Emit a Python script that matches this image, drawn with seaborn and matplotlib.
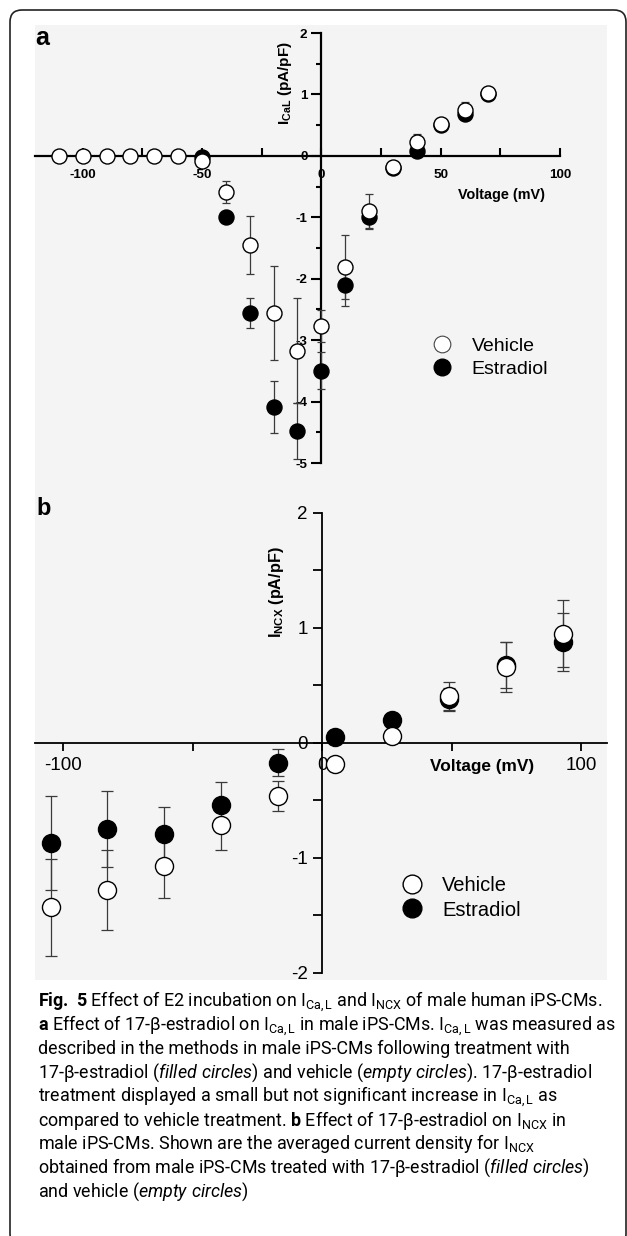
"""Fig. 5 recreation: I-V curves of I_CaL (a) and I_NCX (b), vehicle vs estradiol."""
import matplotlib
matplotlib.use("Agg")
import matplotlib.pyplot as plt
import pandas as pd
import seaborn as sns
from matplotlib.lines import Line2D
from matplotlib.patches import FancyBboxPatch, Rectangle
from matplotlib.ticker import FixedLocator, MultipleLocator

# ---- data -----------------------------------------------------------------
# panel a: L-type Ca current density (pA/pF)
volt_a_vehicle = [-110, -100, -90, -80, -70, -60, -50, -40, -30, -20, -10, 0, 10, 20, 30, 40, 50, 60, 70]
ical_vehicle = [0, 0, 0, 0, 0, 0, -0.08, -0.59, -1.45, -2.56, -3.17, -2.77, -1.81, -0.90, -0.18, 0.23, 0.52, 0.75, 1.03]
ical_vehicle_se = [0, 0, 0, 0, 0, 0, 0.06, 0.18, 0.47, 0.77, 0.86, 0.26, 0.52, 0.28, 0.10, 0.13, 0.10, 0.12, 0.05]

volt_a_estradiol = [-50, -40, -30, -20, -10, 0, 10, 20, 30, 40, 50, 60, 70]
ical_estradiol = [-0.02, -1.00, -2.56, -4.09, -4.48, -3.50, -2.10, -1.00, -0.20, 0.08, 0.50, 0.68, 1.00]
ical_estradiol_se = [0.03, 0.07, 0.24, 0.42, 0.45, 0.30, 0.34, 0.19, 0.08, 0.10, 0.08, 0.08, 0.05]

# panel b: Na/Ca exchanger current density (pA/pF)
volt_b = [-105, -83, -61, -39, -17, 5, 27, 49, 71, 93]
incx_vehicle = [-1.43, -1.28, -1.07, -0.71, -0.46, -0.18, 0.06, 0.41, 0.66, 0.95]
incx_vehicle_se = [0.42, 0.35, 0.28, 0.22, 0.13, 0.03, 0.03, 0.12, 0.22, 0.29]
incx_estradiol = [-0.87, -0.75, -0.79, -0.54, -0.17, 0.05, 0.20, 0.38, 0.68, 0.88]
incx_estradiol_se = [0.41, 0.33, 0.23, 0.20, 0.12, 0.03, 0.03, 0.10, 0.20, 0.25]

group_labels = ["Vehicle", "Estradiol"]

caption_lines = [
    r"$\mathbf{Fig.\ 5}$ Effect of E2 incubation on $\mathregular{I_{Ca,L}}$ and $\mathregular{I_{NCX}}$ of male human iPS-CMs.",
    r"$\mathbf{a}$ Effect of 17-β-estradiol on $\mathregular{I_{Ca,L}}$ in male iPS-CMs. $\mathregular{I_{Ca,L}}$ was measured as",
    "described in the methods in male iPS-CMs following treatment with",
    r"17-β-estradiol ($\mathit{filled\ circles}$) and vehicle ($\mathit{empty\ circles}$). 17-β-estradiol",
    r"treatment displayed a small but not significant increase in $\mathregular{I_{Ca,L}}$ as",
    r"compared to vehicle treatment. $\mathbf{b}$ Effect of 17-β-estradiol on $\mathregular{I_{NCX}}$ in",
    r"male iPS-CMs. Shown are the averaged current density for $\mathregular{I_{NCX}}$",
    r"obtained from male iPS-CMs treated with 17-β-estradiol ($\mathit{filled\ circles}$)",
    r"and vehicle ($\mathit{empty\ circles}$)",
]

# ---- style ------------------------------------------------------------------
sns.set_style("ticks", {"axes.edgecolor": "black", "text.color": "black",
                        "xtick.color": "black", "ytick.color": "black",
                        "axes.labelcolor": "black"})
plt.rcParams["font.family"] = ["Liberation Sans", "DejaVu Sans"]
plt.rcParams["axes.unicode_minus"] = False
plt.rcParams["mathtext.fontset"] = "custom"
plt.rcParams["mathtext.rm"] = "Roboto"
plt.rcParams["mathtext.it"] = "Roboto:italic"
plt.rcParams["mathtext.bf"] = "Roboto:bold"

W, H = 627, 1236
fig = plt.figure(figsize=(W / 100, H / 100), dpi=100)


def fx(px):
    return px / W


def fy(py):
    return 1 - py / H


# scanned-looking grey plot area and the rounded frame
fig.patches.append(Rectangle((fx(35), fy(980)), 572 / W, 955 / H, transform=fig.transFigure,
                             facecolor="#f4f4f4", edgecolor="none", zorder=-2))
fig.patches.append(FancyBboxPatch((0.10, -0.10), 6.16, 12.36, boxstyle="round,pad=0,rounding_size=0.12",
                                  transform=fig.dpi_scale_trans, facecolor="none",
                                  edgecolor="#222222", linewidth=1.2, zorder=-1))


def iv_axes(ax, lw):
    ax.set_facecolor("none")
    for s in ("top", "right"):
        ax.spines[s].set_visible(False)
    ax.spines["left"].set_position(("data", 0))
    ax.spines["bottom"].set_position(("data", 0))
    for s in ("left", "bottom"):
        ax.spines[s].set_linewidth(lw)


def draw_series(ax, x, y, se, fill, size, cap):
    ax.errorbar(x, y, yerr=se, fmt="none", ecolor="#3a3a3a", elinewidth=0.9,
                capsize=cap, capthick=0.9, zorder=3)
    df = pd.DataFrame({"voltage": x, "current": y})
    sns.scatterplot(data=df, x="voltage", y="current", ax=ax, color=fill, edgecolor="black",
                    linewidth=1.0, s=size, zorder=4, legend=False, clip_on=False)


# ---- panel a ----------------------------------------------------------------
ax_a = fig.add_axes([fx(35), fy(463), 525 / W, 430 / H])
iv_axes(ax_a, 1.6)
draw_series(ax_a, volt_a_estradiol, ical_estradiol, ical_estradiol_se, "black", 117, 3)
draw_series(ax_a, volt_a_vehicle, ical_vehicle, ical_vehicle_se, "white", 117, 3)
ax_a.set_xlim(-120, 100)
ax_a.set_ylim(-5, 2)
ax_a.xaxis.set_major_locator(FixedLocator([-100, -50, 0, 50, 100]))
ax_a.xaxis.set_minor_locator(FixedLocator([-75, -25, 25, 75]))
ax_a.yaxis.set_major_locator(MultipleLocator(1))
ax_a.yaxis.set_minor_locator(MultipleLocator(0.5))
ax_a.tick_params(axis="x", which="both", direction="in", length=6, width=1.5, pad=9.5, labelsize=9.7)
ax_a.tick_params(axis="y", which="major", direction="out", length=7, width=1.5, pad=3, labelsize=9.7)
ax_a.tick_params(axis="y", which="minor", direction="out", length=3.5, width=1.5)
for lbl in ax_a.get_xticklabels() + ax_a.get_yticklabels():
    lbl.set_fontweight("bold")
ax_a.set_xlabel("")
ax_a.set_ylabel("")
fig.text(fx(502), fy(195), "Voltage (mV)", ha="center", va="center", fontsize=10.4, fontweight="bold")
fig.text(fx(285), fy(83), r"$\mathregular{I_{CaL}}$ (pA/pF)", rotation=90, ha="center", va="center",
         fontsize=11, fontweight="bold")
handles_a = [Line2D([], [], marker="o", ls="none", mfc="white", mec="#444444", mew=0.8, ms=12),
             Line2D([], [], marker="o", ls="none", mfc="black", mec="black", ms=12)]
ax_a.legend(handles_a, group_labels, loc="center left", bbox_to_anchor=(fx(432), fy(357.5)),
            bbox_transform=fig.transFigure, frameon=False, fontsize=14, handlelength=1.0,
            handletextpad=1.05, labelspacing=0.25, borderpad=0, borderaxespad=0)
fig.text(fx(35), fy(45), "a", fontsize=18, fontweight="bold", va="baseline")

# ---- panel b ----------------------------------------------------------------
ax_b = fig.add_axes([fx(35), fy(973), 572 / W, 460 / H])
iv_axes(ax_b, 1.3)
draw_series(ax_b, volt_b, incx_estradiol, incx_estradiol_se, "black", 169, 4)
draw_series(ax_b, volt_b, incx_vehicle, incx_vehicle_se, "white", 169, 4)
ax_b.set_xlim(-111, 110)
ax_b.set_ylim(-2, 2)
ax_b.xaxis.set_major_locator(FixedLocator([-100, -50, 0, 50, 100]))
ax_b.set_xticklabels(["-100", "", "0", "", "100"])
ax_b.yaxis.set_major_locator(MultipleLocator(1))
ax_b.yaxis.set_minor_locator(MultipleLocator(0.5))
ax_b.tick_params(axis="x", which="major", direction="out", length=6, width=1.3, pad=4, labelsize=13.5)
ax_b.tick_params(axis="y", which="both", direction="out", length=6.5, width=1.3, pad=4, labelsize=13.5)
ax_b.set_xlabel("")
ax_b.set_ylabel("")
fig.text(fx(482), fy(766), "Voltage (mV)", ha="center", va="center", fontsize=12.4, fontweight="bold")
fig.text(fx(277), fy(592), r"$\mathregular{I_{NCX}}$ (pA/pF)", rotation=90, ha="center", va="center",
         fontsize=11.7, fontweight="bold")
handles_b = [Line2D([], [], marker="o", ls="none", mfc="white", mec="black", mew=1.0, ms=13.5),
             Line2D([], [], marker="o", ls="none", mfc="black", mec="black", ms=13.5)]
ax_b.legend(handles_b, group_labels, loc="center left", bbox_to_anchor=(fx(402), fy(898)),
            bbox_transform=fig.transFigure, frameon=False, fontsize=14.5, handlelength=1.0,
            handletextpad=1.0, labelspacing=0.25, borderpad=0, borderaxespad=0)
fig.text(fx(36), fy(515), "b", fontsize=17, fontweight="bold", va="baseline")

# ---- caption ------------------------------------------------------------------
for i, line in enumerate(caption_lines):
    fig.text(fx(38), fy(1007 + 23.7 * i), line, family="Roboto", fontsize=12.9, va="baseline")

fig.savefig("out.png", dpi=100)
